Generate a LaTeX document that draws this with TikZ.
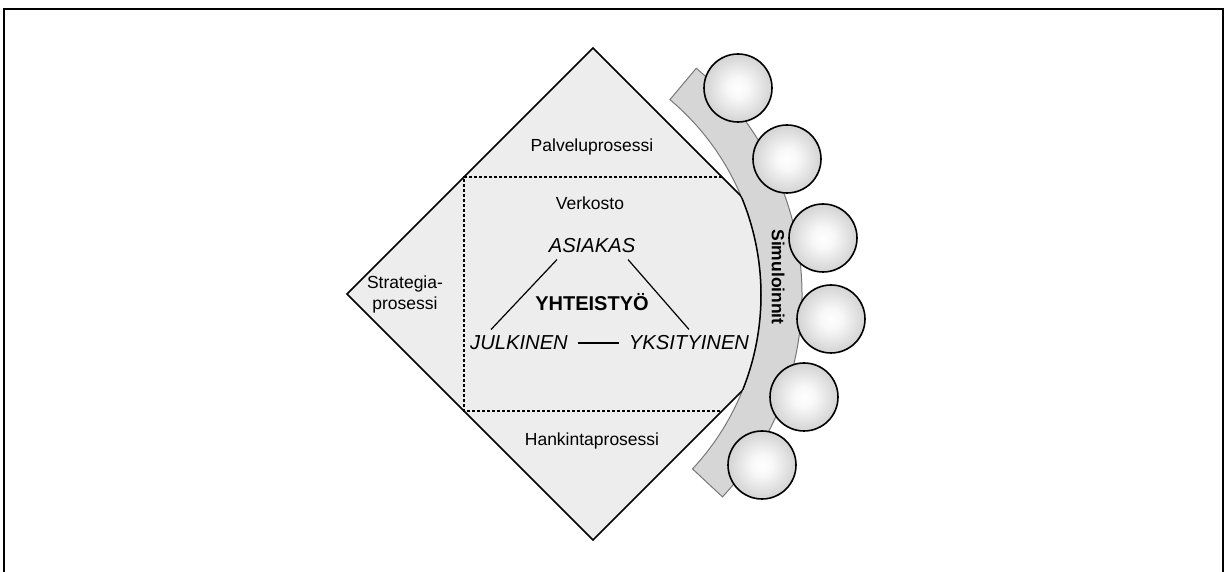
\documentclass[tikz,border=0pt]{standalone}
\usepackage{fontspec}
\setmainfont{Liberation Sans}
\usetikzlibrary{calc}
\definecolor{Pale}{HTML}{EDEDED}
\definecolor{Band}{HTML}{D6D6D6}
\definecolor{Rim}{HTML}{787878}
\pgfdeclareradialshading{sphere}{\pgfpoint{0bp}{0bp}}{color(0bp)=(white); color(8bp)=(white!97!black); color(50bp)=(black!38)}

\begin{document}
\begin{tikzpicture}[x=0.5pt,y=0.5pt,
    txt/.style={inner sep=3pt,font=\fontsize{8.75}{10.5}\selectfont},
    big/.style={inner sep=3pt,font=\fontsize{10.1}{12}\selectfont\itshape},
    heavy/.style={inner sep=3pt,font=\fontsize{#1}{12}\selectfont\bfseries},
    ball/.style={draw=black,line width=0.8pt,shading=sphere},
    cut/.style={line width=0.7pt,dash pattern=on 1.6pt off 0.9pt}]
    \useasboundingbox (0,0) rectangle (1226,572);
    \draw[line width=1.25pt] (4,0) -- (4,563) -- (1223,563) -- (1223,0);
    \coordinate (C) at (506,277);
    \coordinate (t) at (593,524);
    \coordinate (r) at (839,278);
    \coordinate (b) at (593,32);
    \coordinate (l) at (347,278);
    % curved band
    \filldraw[fill=Band,draw=Rim,line width=0.5pt] ($(C)+(50:296)$) arc[start angle=50,end angle=-43,radius=296]
      -- ($(C)+(-43:255)$) arc[start angle=-43,end angle=50,radius=255] -- cycle;
    \foreach \x/\y in {738/484,787/413,823/334,831/253,804/175,762/107}
      \shadedraw[ball] (\x,\y) circle (34);
    % diamond cut by the arc
    \begin{scope}
      \clip ($(C)+(40:255)$) arc[start angle=40,end angle=-40,radius=255] -- (701,0) -- (0,0) -- (0,572) -- (701,572) -- cycle;
      \filldraw[fill=Pale,line width=0.75pt] (t) -- (r) -- (b) -- (l) -- cycle;
    \end{scope}
    \begin{scope}
      \clip (t) -- (r) -- (b) -- (l) -- cycle;
      \draw[line width=0.75pt] ($(C)+(40:255)$) arc[start angle=40,end angle=-40,radius=255];
    \end{scope}
    \draw[cut] (722,395) -- (464,395) -- (464,161) -- (722,161);
    % texts
    \node[txt] (palvelu) at (592,425) {Palveluprosessi};
    \node[txt] (verkosto) at (590,369) {Verkosto};
    \node[big] (asiakas) at (592,326) {ASIAKAS};
    \node[heavy=10] (yhteistyo) at (592,270) {YHTEISTYÖ};
    \node[big] (julkinen) at (519,229) {JULKINEN};
    \node[big] (yksityinen) at (689,229) {YKSITYINEN};
    \node[txt,align=center] (strategia) at (405,278) {Strategia-\\prosessi};
    \node[txt] (hankinta) at (592,131) {Hankintaprosessi};
    \node[heavy=8.75,rotate=-90] (simuloinnit) at (778,295) {Simuloinnit};
    \draw[line width=0.6pt] ([xshift=-17.5pt]asiakas.south) -- ([xshift=-14pt]julkinen.north);
    \draw[line width=0.6pt] ([xshift=18pt]asiakas.south) -- (yksityinen.north);
    \draw[line width=0.6pt,shorten <=2pt,shorten >=2pt] (julkinen) -- (yksityinen);
\end{tikzpicture}
\end{document}
